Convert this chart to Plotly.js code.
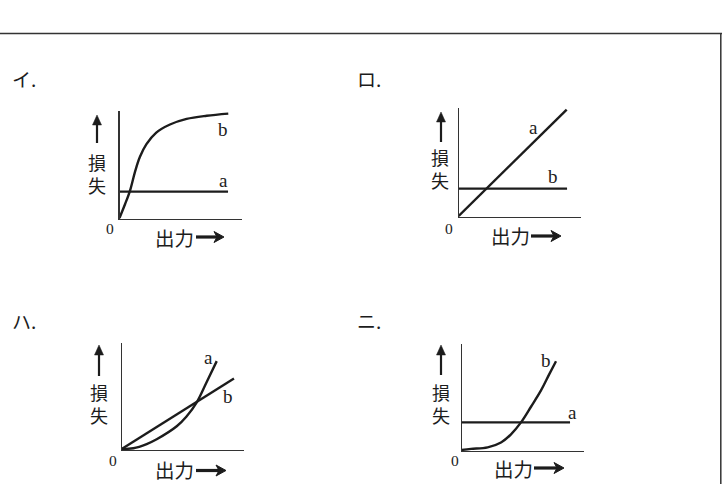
<!DOCTYPE html>
<html>
<head>
<meta charset="utf-8">
<script src="https://cdn.plot.ly/plotly-3.0.1.min.js"></script>
<style>
  html, body { margin: 0; padding: 0; background: #fff; }
  #chart { width: 722px; height: 484px; }
</style>
</head>
<body>
<div id="chart"></div>
<script>
// Four small loss-vs-output sketches (イ, ロ, ハ, ニ). Values are fractions of
// each little plot's axis length.
const I_A_X = [0, 0.886];
const I_A_Y = [0.25, 0.25];
const I_B_X = [0, 0.045, 0.086, 0.127, 0.167, 0.22, 0.30, 0.412, 0.548, 0.712, 0.888];
const I_B_Y = [0, 0.13, 0.26, 0.44, 0.58, 0.70, 0.81, 0.887, 0.94, 0.97, 0.99];

const RO_A_X = [0, 0.883];
const RO_A_Y = [0, 1.0];
const RO_B_X = [0, 0.886];
const RO_B_Y = [0.257, 0.257];

const HA_A_X = [0, 0.095, 0.204, 0.286, 0.45, 0.53, 0.616, 0.695, 0.777];
const HA_A_Y = [0, 0.007, 0.047, 0.093, 0.217, 0.31, 0.45, 0.64, 0.839];
const HA_B_X = [0, 0.918];
const HA_B_Y = [0, 0.674];

const NI_A_X = [0, 0.888];
const NI_A_Y = [0.264, 0.264];
const NI_B_X = [0, 0.076, 0.213, 0.322, 0.404, 0.486, 0.568, 0.65, 0.718, 0.773];
const NI_B_Y = [0, 0.01, 0.025, 0.072, 0.15, 0.264, 0.414, 0.57, 0.726, 0.85];

const PANEL_TITLES = ["イ.", "ロ.", "ハ.", "ニ."];
const Y_LABEL = "損<br>失";
const X_LABEL = "出力";

const INK = "#1c1c1c";
const JP_FONT = "Noto Sans CJK JP, Noto Sans, sans-serif";
const SERIF_FONT = "Liberation Serif, DejaVu Serif, serif";
const W = 722, H = 484;

const px = (x) => x / W;
const py = (y) => 1 - y / H;

// pixel boxes of each plot: [left, right, top, bottom]
const panels = [
  { box: [119.5, 242, 111, 219], title: [24, 78], ylab: [97, 173.5], up: [97, 115, 143], zero: [110, 229], xlab: [174.5, 237], right: [196, 224, 237] },
  { box: [458.7, 581, 108, 217], title: [369, 78], ylab: [440, 168.5], up: [441, 112, 142], zero: [449, 228], xlab: [510, 235], right: [531, 561, 236] },
  { box: [121.7, 244, 342.7, 450], title: [24, 320], ylab: [99, 403], up: [99, 345, 376], zero: [113, 460], xlab: [174.5, 469.5], right: [196, 226, 470.5] },
  { box: [461.7, 583.7, 344, 451], title: [369, 320], ylab: [441, 403.5], up: [441, 345, 375], zero: [455, 460.5], xlab: [513.5, 468], right: [534, 564, 468] },
];

const series = [
  [[I_A_X, I_A_Y, "linear"], [I_B_X, I_B_Y, "spline"]],
  [[RO_A_X, RO_A_Y, "linear"], [RO_B_X, RO_B_Y, "linear"]],
  [[HA_A_X, HA_A_Y, "spline"], [HA_B_X, HA_B_Y, "linear"]],
  [[NI_A_X, NI_A_Y, "linear"], [NI_B_X, NI_B_Y, "spline"]],
];

// curve letters in data units of each panel
const curveLabels = [
  [["a", 0.845, 0.36], ["b", 0.845, 0.84]],
  [["a", 0.61, 0.83], ["b", 0.77, 0.37]],
  [["a", 0.706, 0.876], ["b", 0.869, 0.497]],
  [["a", 0.91, 0.355], ["b", 0.69, 0.86]],
];

const data = [];
const layout = {
  width: W,
  height: H,
  margin: { l: 0, r: 0, t: 0, b: 0 },
  paper_bgcolor: "#ffffff",
  plot_bgcolor: "#ffffff",
  showlegend: false,
  annotations: [],
  shapes: [
    { type: "line", xref: "paper", yref: "paper", x0: 0, x1: 1, y0: py(33.5), y1: py(33.5), line: { color: "#333", width: 1.5 } },
    { type: "line", xref: "paper", yref: "paper", x0: px(720.8), x1: px(720.8), y0: py(33.5), y1: 0, line: { color: "#333", width: 1.5 } },
  ],
};

const axisStyle = (domain) => ({
  domain,
  range: [0, 1],
  showline: true,
  linecolor: "#333",
  linewidth: 1.2,
  showgrid: false,
  zeroline: false,
  showticklabels: false,
  ticks: "",
  fixedrange: true,
});

const text = (t, x, y, font) => ({
  xref: "paper", yref: "paper", x: px(x), y: py(y), text: t, showarrow: false,
  xanchor: "center", yanchor: "middle", font,
});

const pathOf = (pts) => "M " + pts.map(([x, y]) => `${px(x)},${py(y)}`).join(" L ") + " Z";

// arrows are drawn as shapes: shaft line + filled head
function upArrow(x, tip, tail) {
  return [
    { type: "line", xref: "paper", yref: "paper", x0: px(x), x1: px(x), y0: py(tail), y1: py(tip + 6), line: { color: INK, width: 2.2 } },
    { type: "path", xref: "paper", yref: "paper", path: pathOf([[x, tip], [x - 4.5, tip + 10], [x + 4.5, tip + 10]]), fillcolor: INK, line: { color: INK, width: 0.5 } },
  ];
}

function rightArrow(tail, tip, y) {
  return [
    { type: "line", xref: "paper", yref: "paper", x0: px(tail), x1: px(tip - 6), y0: py(y), y1: py(y), line: { color: INK, width: 3.2 } },
    { type: "path", xref: "paper", yref: "paper", path: pathOf([[tip, y], [tip - 10, y - 5.5], [tip - 7, y], [tip - 10, y + 5.5]]), fillcolor: INK, line: { color: INK, width: 1 } },
  ];
}

panels.forEach((p, i) => {
  const n = i === 0 ? "" : String(i + 1);
  const [l, r, t, b] = p.box;
  layout["xaxis" + n] = { ...axisStyle([px(l), px(r)]), anchor: "y" + n, range: [0, 1] };
  layout["yaxis" + n] = { ...axisStyle([py(b), py(t)]), anchor: "x" + n, range: [-0.01, 1.015] };

  for (const [xs, ys, shape] of series[i]) {
    data.push({
      type: "scatter",
      mode: "lines",
      x: xs,
      y: ys,
      xaxis: "x" + n,
      yaxis: "y" + n,
      line: { color: INK, width: 2.4, shape, smoothing: 1 },
      hoverinfo: "skip",
    });
  }

  for (const [label, lx, ly] of curveLabels[i]) {
    layout.annotations.push({
      xref: "x" + n, yref: "y" + n, x: lx, y: ly, text: label, showarrow: false,
      xanchor: "center", yanchor: "middle",
      font: { family: SERIF_FONT, size: 19, color: INK },
    });
  }

  const jp = { family: JP_FONT, size: 18, color: INK };
  layout.annotations.push(text(PANEL_TITLES[i], p.title[0], p.title[1], { family: JP_FONT, size: 19, color: INK }));
  layout.annotations.push(text(Y_LABEL, p.ylab[0], p.ylab[1], jp));
  layout.annotations.push(text(X_LABEL, p.xlab[0], p.xlab[1], { ...jp, size: 19.5 }));
  layout.annotations.push(text("0", p.zero[0], p.zero[1], { family: SERIF_FONT, size: 15.5, color: INK }));
  layout.shapes.push(...upArrow(p.up[0], p.up[1], p.up[2]));
  layout.shapes.push(...rightArrow(p.right[0], p.right[1], p.right[2]));
});

Plotly.newPlot("chart", data, layout, { staticPlot: true, displayModeBar: false });
</script>
</body>
</html>
